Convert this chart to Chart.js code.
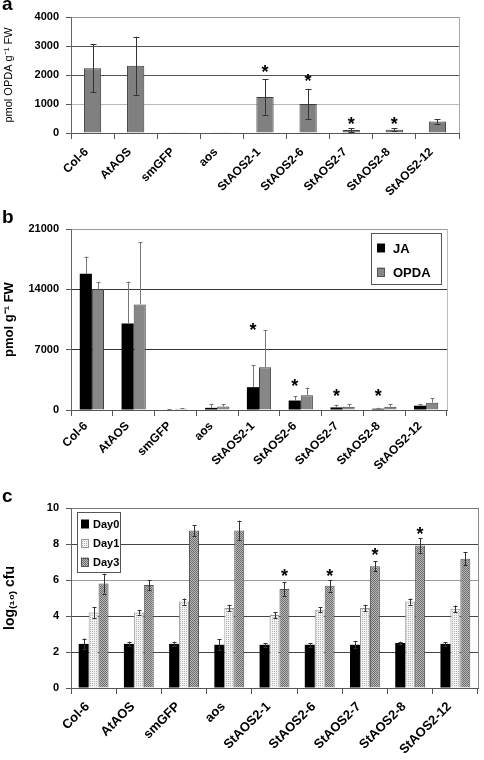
<!DOCTYPE html>
<html>
<head>
<meta charset="utf-8">
<script src="https://cdn.jsdelivr.net/npm/chart.js@4.4.1/dist/chart.umd.min.js"></script>
<style>
  html, body { margin: 0; padding: 0; background: #fff; }
  #page { position: relative; width: 484px; height: 760px; overflow: hidden; }
  canvas { position: absolute; left: 0; }
  .panel { position: absolute; left: 2px; font: bold 19px "Liberation Sans", Arial, sans-serif; line-height: 19px; color: #000; }
</style>
</head>
<body>
<div id="page">
  <canvas id="chart-a" width="484" height="200" style="top:0px"></canvas>
  <canvas id="chart-b" width="484" height="280" style="top:195px"></canvas>
  <canvas id="chart-c" width="484" height="295" style="top:465px"></canvas>
  <div class="panel" style="top:-6px">a</div>
  <div class="panel" style="top:207px">b</div>
  <div class="panel" style="top:486px">c</div>
</div>
<script>
// Lines / genotypes
const categories = ['Col-6', 'AtAOS', 'smGFP', 'aos', 'StAOS2-1', 'StAOS2-6', 'StAOS2-7', 'StAOS2-8', 'StAOS2-12'];

// Panel a: OPDA (pmol g-1 FW)
const opdaA = [2230, 2320, 10, 10, 1240, 1000, 100, 110, 400];
const opdaAErr = [830, 1000, 0, 0, 610, 520, 60, 50, 80];
const starsA = [null, null, null, null, 2240, 1940, 450, 450, null];
const ticksA = [0, 1000, 2000, 3000, 4000];

// Panel b: JA and OPDA (pmol g-1 FW)
const jaB = [15800, 10050, 60, 250, 2650, 1100, 300, 150, 500];
const jaBErr = [2000, 4850, 40, 450, 2550, 520, 320, 120, 220];
const opdaB = [14050, 12250, 150, 400, 4950, 1700, 380, 380, 850];
const opdaBErr = [800, 7200, 60, 300, 4300, 900, 280, 280, 550];
const starsB = [null, null, null, null, 9800, 3300, 2100, 2100, null];
const ticksB = [0, 7000, 14000, 21000];

// Panel c: bacterial growth, log10 cfu
const day0 = [2.45, 2.45, 2.45, 2.4, 2.4, 2.4, 2.4, 2.5, 2.45];
const day0Err = [0.3, 0.12, 0.12, 0.3, 0.1, 0.1, 0.2, 0.07, 0.1];
const day1 = [4.2, 4.2, 4.8, 4.45, 4.05, 4.35, 4.45, 4.8, 4.4];
const day1Err = [0.3, 0.12, 0.17, 0.17, 0.17, 0.15, 0.17, 0.17, 0.18];
const day3 = [5.8, 5.72, 8.75, 8.75, 5.5, 5.68, 6.77, 7.92, 7.18];
const day3Err = [0.55, 0.28, 0.3, 0.55, 0.37, 0.32, 0.28, 0.4, 0.37];
const starsC = [null, null, null, null, 6.46, 6.46, 7.6, 8.8, null];
const ticksC = [0, 2, 4, 6, 8, 10];

const FONT = '"Liberation Sans", Arial, sans-serif';
const NARROW = '"Liberation Sans Narrow", "Liberation Sans", Arial, sans-serif';

/**
 * Build a small repeating fill pattern for the hatched bars
 */
function makePattern(bg, fg, size, dots) {
    const c = document.createElement('canvas');
    c.width = size;
    c.height = size;
    const g = c.getContext('2d');
    g.fillStyle = bg;
    g.fillRect(0, 0, size, size);
    g.fillStyle = fg;
    dots.forEach(([x, y]) => g.fillRect(x, y, 1, 1));
    return g.createPattern(c, 'repeat');
}

const day1Fill = makePattern('#f2f2f2', '#b4b4b4', 2, [[0, 0]]);
const day3Fill = makePattern('#6e6e6e', '#b8b8b8', 2, [[0, 0], [1, 1]]);

/**
 * Error bars, significance stars, right frame line and an inset legend
 */
function makeDecorations(cfg) {
    return {
        id: 'decorations',
        afterDatasetsDraw(chart) {
            const ctx = chart.ctx;
            const y = chart.scales.y;
            const area = chart.chartArea;
            ctx.save();

            // right frame line
            ctx.strokeStyle = cfg.frameColor;
            ctx.lineWidth = 1;
            ctx.beginPath();
            ctx.moveTo(Math.round(area.right) + 0.5, area.top);
            ctx.lineTo(Math.round(area.right) + 0.5, area.bottom);
            ctx.stroke();

            // error bars
            cfg.errors.forEach(set => {
                const meta = chart.getDatasetMeta(set.index);
                const values = chart.data.datasets[set.index].data;
                meta.data.forEach((bar, i) => {
                    const e = set.err[i];
                    if (!e) return;
                    const x = Math.round(bar.x) + 0.5;
                    const top = y.getPixelForValue(values[i] + e);
                    const bottom = set.both ? y.getPixelForValue(values[i] - e) : bar.y;
                    ctx.strokeStyle = set.color;
                    ctx.lineWidth = 1;
                    ctx.beginPath();
                    ctx.moveTo(x, top);
                    ctx.lineTo(x, bottom);
                    ctx.moveTo(x - set.cap, Math.round(top) + 0.5);
                    ctx.lineTo(x + set.cap, Math.round(top) + 0.5);
                    if (set.both) {
                        ctx.moveTo(x - set.cap, Math.round(bottom) + 0.5);
                        ctx.lineTo(x + set.cap, Math.round(bottom) + 0.5);
                    }
                    ctx.stroke();
                });
            });

            // significance stars
            const starMeta = chart.getDatasetMeta(cfg.stars.index);
            ctx.fillStyle = '#000';
            ctx.font = 'bold ' + cfg.stars.size + 'px ' + FONT;
            ctx.textAlign = 'center';
            ctx.textBaseline = 'alphabetic';
            cfg.stars.values.forEach((v, i) => {
                if (v === null) return;
                const bar = starMeta.data[i];
                ctx.fillText('*', bar.x, y.getPixelForValue(v) + cfg.stars.size * 0.57);
            });

            // inset legend
            if (cfg.legend) {
                const L = cfg.legend;
                const lx = area.left + L.left;
                const ly = area.top + L.top;
                ctx.fillStyle = '#fff';
                ctx.fillRect(lx, ly, L.width, L.height);
                ctx.strokeStyle = '#555';
                ctx.strokeRect(Math.round(lx) + 0.5, Math.round(ly) + 0.5, L.width, L.height);
                ctx.font = L.font;
                ctx.textAlign = 'left';
                ctx.textBaseline = 'middle';
                L.items.forEach((it, k) => {
                    const cy = ly + L.firstRow + k * L.rowGap;
                    ctx.fillStyle = it.fill;
                    ctx.fillRect(lx + L.boxX, cy - L.box / 2, L.box - 1, L.box);
                    if (it.border) {
                        ctx.strokeStyle = it.border;
                        ctx.strokeRect(Math.round(lx + L.boxX) + 0.5, Math.round(cy - L.box / 2) + 0.5, L.box - 2, L.box - 1);
                    }
                    ctx.fillStyle = '#000';
                    ctx.fillText(it.label, lx + L.textX, cy + 1);
                });
            }
            ctx.restore();
        }
    };
}

/**
 * Shared scales: category x axis with rotated labels, linear y axis
 */
function makeScales(opt) {
    return {
        x: {
            grid: { offset: true, drawOnChartArea: false, tickLength: 6, color: '#555' },
            border: { color: '#555' },
            ticks: {
                autoSkip: false,
                minRotation: 45,
                maxRotation: 45,
                padding: opt.xPad,
                labelOffset: -6,
                color: '#000',
                font: { family: FONT, size: opt.xFont, weight: 'bold' }
            },
            afterFit: s => { s.height = opt.xHeight; }
        },
        y: {
            min: opt.ticks[0],
            max: opt.ticks[opt.ticks.length - 1],
            afterBuildTicks: s => { s.ticks = opt.ticks.map(v => ({ value: v })); },
            grid: {
                color: c => opt.gridColor(c.tick.value),
                tickColor: '#555',
                tickLength: 5
            },
            border: { color: '#666' },
            ticks: {
                padding: 7,
                color: '#000',
                font: { family: FONT, size: 11, weight: 'bold' },
                callback: v => String(v)
            },
            title: {
                display: true,
                text: opt.title,
                color: '#000',
                font: { family: FONT, size: opt.titleSize, weight: opt.titleWeight },
                padding: { top: 2, bottom: 0 }
            },
            afterFit: s => { s.width = 71; }
        }
    };
}

// ---------- panel a ----------
new Chart(document.getElementById('chart-a'), {
    type: 'bar',
    data: {
        labels: categories,
        datasets: [{
            label: 'OPDA',
            data: opdaA,
            backgroundColor: '#808080',
            borderColor: '#3a3a3a',
            borderWidth: 1,
            barPercentage: 0.4,
            categoryPercentage: 1
        }]
    },
    options: {
        responsive: false,
        animation: false,
        layout: { padding: { top: 17, right: 25, left: 0, bottom: 0 } },
        plugins: { legend: { display: false }, tooltip: { enabled: false } },
        scales: makeScales({
            ticks: ticksA,
            xFont: 12,
            xPad: 6,
            xHeight: 67,
            title: 'pmol OPDA g\u207B\u00B9 FW',
            titleSize: 11,
            titleWeight: 'normal',
            gridColor: v => v === 0 ? '#666' : v === 1000 ? '#b8b8b8' : v === 4000 ? '#999' : '#555'
        })
    },
    plugins: [makeDecorations({
        frameColor: '#aaa',
        errors: [{ index: 0, err: opdaAErr, both: true, cap: 3, color: '#333' }],
        stars: { index: 0, values: starsA, size: 18 }
    })]
});

// ---------- panel b ----------
new Chart(document.getElementById('chart-b'), {
    type: 'bar',
    data: {
        labels: categories,
        datasets: [
            {
                label: 'JA',
                data: jaB,
                backgroundColor: '#000',
                borderWidth: 0,
                barPercentage: 1,
                categoryPercentage: 0.58
            },
            {
                label: 'OPDA',
                data: opdaB,
                backgroundColor: '#878787',
                borderColor: '#404040',
                borderWidth: 1,
                barPercentage: 1,
                categoryPercentage: 0.58
            }
        ]
    },
    options: {
        responsive: false,
        animation: false,
        layout: { padding: { top: 34, right: 37, left: 0, bottom: 0 } },
        plugins: { legend: { display: false }, tooltip: { enabled: false } },
        scales: makeScales({
            ticks: ticksB,
            xFont: 12,
            xPad: 3,
            xHeight: 65,
            title: 'pmol g\u207B\u00B9 FW',
            titleSize: 13,
            titleWeight: 'bold',
            gridColor: v => v === 21000 ? '#999' : v === 0 ? '#555' : '#333'
        })
    },
    plugins: [makeDecorations({
        frameColor: '#bbb',
        errors: [
            { index: 0, err: jaBErr, both: false, cap: 2, color: '#777' },
            { index: 1, err: opdaBErr, both: false, cap: 2, color: '#777' }
        ],
        stars: { index: 0, values: starsB, size: 18 },
        legend: {
            left: 300, top: 4, width: 70, height: 51,
            box: 9, boxX: 6, textX: 22, firstRow: 15, rowGap: 24,
            font: 'bold 13px ' + FONT,
            items: [
                { label: 'JA', fill: '#000' },
                { label: 'OPDA', fill: '#878787', border: '#555' }
            ]
        }
    })]
});

// ---------- panel c ----------
new Chart(document.getElementById('chart-c'), {
    type: 'bar',
    data: {
        labels: categories,
        datasets: [
            {
                label: 'Day0',
                data: day0,
                backgroundColor: '#000',
                borderWidth: 0,
                barPercentage: 1,
                categoryPercentage: 0.66
            },
            {
                label: 'Day1',
                data: day1,
                backgroundColor: day1Fill,
                borderColor: '#999',
                borderWidth: 1,
                barPercentage: 1,
                categoryPercentage: 0.66
            },
            {
                label: 'Day3',
                data: day3,
                backgroundColor: day3Fill,
                borderColor: '#555',
                borderWidth: 1,
                barPercentage: 1,
                categoryPercentage: 0.66
            }
        ]
    },
    options: {
        responsive: false,
        animation: false,
        layout: { padding: { top: 43, right: 6, left: 0, bottom: 0 } },
        plugins: { legend: { display: false }, tooltip: { enabled: false } },
        scales: makeScales({
            ticks: ticksC,
            xFont: 13,
            xPad: 5,
            xHeight: 72,
            title: 'log\u208D\u2081\u2080\u208E cfu',
            titleSize: 14,
            titleWeight: 'bold',
            gridColor: v => v === 6 ? '#9a9a9a' : v === 10 ? '#777' : '#444'
        })
    },
    plugins: [makeDecorations({
        frameColor: '#888',
        errors: [
            { index: 0, err: day0Err, both: true, cap: 2, color: '#333' },
            { index: 1, err: day1Err, both: true, cap: 2, color: '#333' },
            { index: 2, err: day3Err, both: true, cap: 2, color: '#333' }
        ],
        stars: { index: 2, values: starsC, size: 18 },
        legend: {
            left: 6, top: 4, width: 43, height: 60,
            box: 9, boxX: 4, textX: 16, firstRow: 12, rowGap: 19,
            font: 'bold 11px ' + NARROW,
            items: [
                { label: 'Day0', fill: '#000' },
                { label: 'Day1', fill: day1Fill, border: '#999' },
                { label: 'Day3', fill: day3Fill, border: '#555' }
            ]
        }
    })]
});
</script>
</body>
</html>
